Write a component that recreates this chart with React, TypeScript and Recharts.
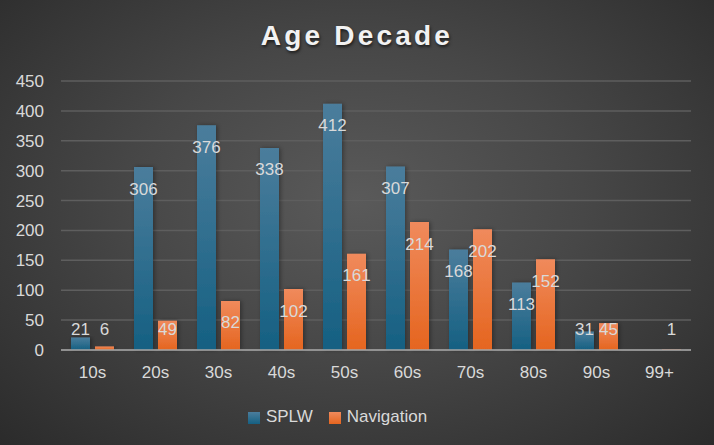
import { BarChart, Bar, XAxis, YAxis, CartesianGrid, Legend, LabelList } from "recharts";

const decades = ["10s", "20s", "30s", "40s", "50s", "60s", "70s", "80s", "90s", "99+"];
const splw = [21, 306, 376, 338, 412, 307, 168, 113, 31, 0];
const navigation = [6, 49, 82, 102, 161, 214, 202, 152, 45, 1];
const yTicks = [0, 50, 100, 150, 200, 250, 300, 350, 400, 450];
const seriesOrder = ["SPLW", "Navigation"];

const data = decades.map((decade, i) => ({
  decade,
  SPLW: splw[i],
  Navigation: navigation[i],
}));

const FONT = "'Liberation Sans', Arial, sans-serif";
const TEXT = "#d9d9d9";
const FS = 17;

function BarValue(props: any) {
  const { x, y, width, height, value } = props;
  if (!value) return null;
  const cy = Math.min(y + 22, y + height - 21);
  return (
    <text
      x={x + width / 2}
      y={cy}
      fill={TEXT}
      fontSize={FS}
      fontFamily={FONT}
      textAnchor="middle"
      dominantBaseline="central"
    >
      {value}
    </text>
  );
}

export default function App() {
  return (
    <div
      style={{
        position: "absolute",
        left: 0,
        top: 0,
        width: 714,
        height: 445,
        background: "radial-gradient(ellipse at 50% 45%, #5a5a5a 0%, #474747 45%, #2b2b2b 100%)",
        fontFamily: FONT,
      }}
    >
      <div
        style={{
          position: "absolute",
          top: 20,
          width: "100%",
          textAlign: "center",
          color: "#f2f2f2",
          fontSize: 28,
          fontWeight: 700,
          letterSpacing: 3.2,
          textShadow: "1px 2px 3px rgba(0,0,0,0.6)",
        }}
      >
        Age Decade
      </div>
      <BarChart
        width={714}
        height={445}
        data={data}
        margin={{ top: 81, right: 23, left: 0, bottom: 0 }}
        barCategoryGap={10}
        barGap={5}
      >
        <defs>
          <linearGradient id="gBlue" x1="0" y1="0" x2="0" y2="1">
            <stop offset="0%" stopColor="#4b7d9c" />
            <stop offset="100%" stopColor="#156082" />
          </linearGradient>
          <linearGradient id="gOrange" x1="0" y1="0" x2="0" y2="1">
            <stop offset="0%" stopColor="#f08a5c" />
            <stop offset="100%" stopColor="#e5651f" />
          </linearGradient>
          <filter id="shadow" x="-30%" y="-10%" width="160%" height="130%">
            <feDropShadow dx="1.5" dy="0" stdDeviation="2" floodColor="#000" floodOpacity="0.35" />
          </filter>
        </defs>
        <CartesianGrid vertical={false} stroke="#5e5e5e" strokeWidth={1.5} />
        <XAxis
          dataKey="decade"
          height={45}
          tickLine={false}
          tickSize={0}
          tickMargin={16}
          axisLine={{ stroke: "#a6a6a6", strokeWidth: 1.5 }}
          tick={{ fill: TEXT, fontSize: FS, fontFamily: FONT }}
        />
        <YAxis
          width={61}
          domain={[0, 450]}
          ticks={yTicks}
          axisLine={false}
          tickLine={false}
          tickSize={0}
          tickMargin={17}
          tick={{ fill: TEXT, fontSize: FS, fontFamily: FONT }}
        />
        <Legend
          verticalAlign="bottom"
          height={38}
          iconType="square"
          iconSize={12}
          itemSorter={(item: any) => seriesOrder.indexOf(item.dataKey)}
          wrapperStyle={{ paddingTop: 12, fontSize: FS, fontFamily: FONT }}
          formatter={(v: string) => (
            <span style={{ color: TEXT, marginLeft: 2, marginRight: 6 }}>{v}</span>
          )}
        />
        <Bar dataKey="SPLW" fill="url(#gBlue)" filter="url(#shadow)" isAnimationActive={false}>
          <LabelList dataKey="SPLW" content={BarValue} />
        </Bar>
        <Bar dataKey="Navigation" fill="url(#gOrange)" filter="url(#shadow)" isAnimationActive={false}>
          <LabelList dataKey="Navigation" content={BarValue} />
        </Bar>
      </BarChart>
    </div>
  );
}
